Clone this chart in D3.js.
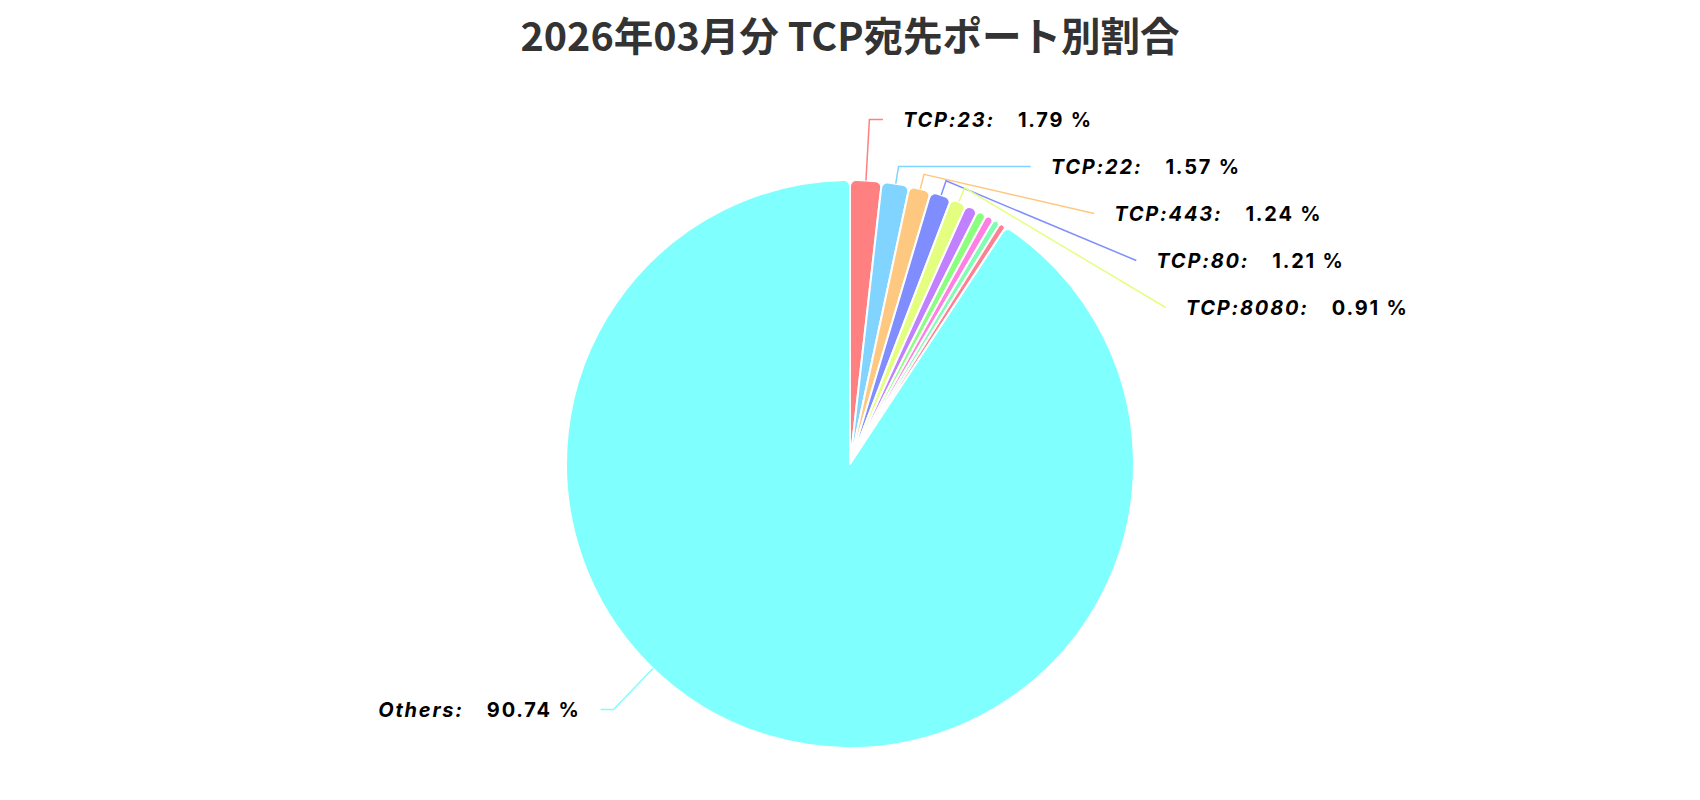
<!DOCTYPE html>
<html><head><meta charset="utf-8">
<script src="https://cdn.jsdelivr.net/npm/d3@7"></script>
<style>body{margin:0;background:#fff;} svg{display:block}</style>
</head><body><svg id="chart" width="1700" height="800"></svg>
<script>
const titleText = "2026年03月分 TCP宛先ポート別割合";
const categories = ["TCP:23","TCP:22","TCP:443","TCP:80","TCP:8080","6位","7位","8位","9位","10位","Others"];
const values = [1.79,1.57,1.24,1.21,0.91,0.73,0.54,0.48,0.41,0.38,90.74];
const colors = ["#ff8080","#80d4ff","#ffc880","#808dff","#e4ff80","#c080ff","#8cff80","#ff80e4","#80ffb2","#ff8093","#80ffff"];

const W = 1700, H = 800, cx = 850, cy = 464, R = 284;
const svg = d3.select("#chart");

svg.append("text").attr("x", cx).attr("y", 51).attr("text-anchor", "middle")
  .style("font-family", "'Noto Sans CJK JP', sans-serif").style("font-weight", "bold")
  .style("font-size", "39.5px").attr("fill", "#333").text(titleText);

const data = categories.map((c, i) => ({name: c, value: values[i], color: colors[i]}));
const arcs = d3.pie().sort(null).value(d => d.value)(data);
const arc = d3.arc().innerRadius(0).outerRadius(R).cornerRadius(6);
const g = svg.append("g").attr("transform", `translate(${cx},${cy})`);
g.selectAll("path.slice").data(arcs).join("path").attr("class", "slice")
  .attr("d", arc).attr("fill", d => d.data.color)
  .attr("stroke", "#fff").attr("stroke-width", 2).attr("stroke-linejoin", "round");

// label layout
const MIN_LABEL_ANGLE = 3 * Math.PI / 180;
const LEN = 15, RX = 354, RY = 346, SPACING = 47, TOP = 96 - cy, BOTTOM = 733 - cy, GAP = 20, HSEG = 13;
const labels = arcs.filter(a => a.endAngle - a.startAngle >= MIN_LABEL_ANGLE).map(a => {
  const mid = (a.startAngle + a.endAngle) / 2;
  const s = Math.sin(mid), c = Math.cos(mid);
  return {a, mid, dir: s >= 0 ? 1 : -1, p1: [R * s, -R * c], e: [(R + LEN) * s, -(R + LEN) * c], y: -(R + LEN) * c};
});
[1, -1].forEach(dir => {
  const side = labels.filter(l => l.dir === dir).sort((p, q) => p.y - q.y);
  if (!side.length) return;
  let last = -Infinity, total = 0;
  side.forEach(l => {
    const top = l.y - SPACING / 2;
    if (top < last) { const sh = last - top; l.y += sh; total += sh; }
    last = l.y + SPACING / 2;
  });
  side.forEach(l => l.y -= total / side.length);
  const over = TOP - (side[0].y - SPACING / 2);
  if (over > 0) side.forEach(l => l.y += over);
  const under = (side[side.length - 1].y + SPACING / 2) - BOTTOM;
  if (under > 0) side.forEach(l => l.y -= under);
});
const inRange = (ang, a) => {
  let t = ang; while (t < 0) t += 2 * Math.PI; while (t > 2 * Math.PI) t -= 2 * Math.PI;
  return t >= a.startAngle && t <= a.endAngle;
};
labels.forEach(l => {
  const dy = l.y;
  const ex = l.dir * RX * Math.sqrt(Math.max(0, 1 - dy * dy / (RY * RY)));
  l.end = [ex, dy];
  const cm = -Math.cos(l.mid);
  const t = cm !== 0 ? dy / cm : -1;
  if (t >= R + LEN) {
    l.points = [l.p1, [t * Math.sin(l.mid), dy], l.end];
  } else {
    const elbow = [ex - l.dir * HSEG, dy];
    const dist = Math.hypot(elbow[0], elbow[1]);
    const ang = Math.atan2(elbow[0], -elbow[1]);
    if (dist > R && inRange(ang, l.a)) {
      l.points = [[elbow[0] * R / dist, elbow[1] * R / dist], elbow, l.end];
    } else {
      l.points = [l.p1, l.e, l.end];
    }
  }
});
g.selectAll("path.line").data(labels).join("path").attr("class", "line")
  .attr("d", l => d3.line()(l.points)).attr("fill", "none")
  .attr("stroke", l => l.a.data.color).attr("stroke-width", 1.5);
const txt = g.selectAll("text.lbl").data(labels).join("text").attr("class", "lbl")
  .attr("x", l => l.end[0] + l.dir * GAP).attr("y", l => l.y).attr("dy", "0.36em")
  .attr("text-anchor", l => l.dir > 0 ? "start" : "end")
  .style("font-family", "Inter, sans-serif").style("font-size", "20px").style("font-weight", "bold")
  .style("letter-spacing", "1.8px")
  .attr("fill", "#000");
txt.append("tspan").style("font-style", "italic").text(l => l.a.data.name + ":");
txt.append("tspan").attr("dx", 23).text(l => l.a.data.value.toFixed(2) + " %");
</script></body></html>
